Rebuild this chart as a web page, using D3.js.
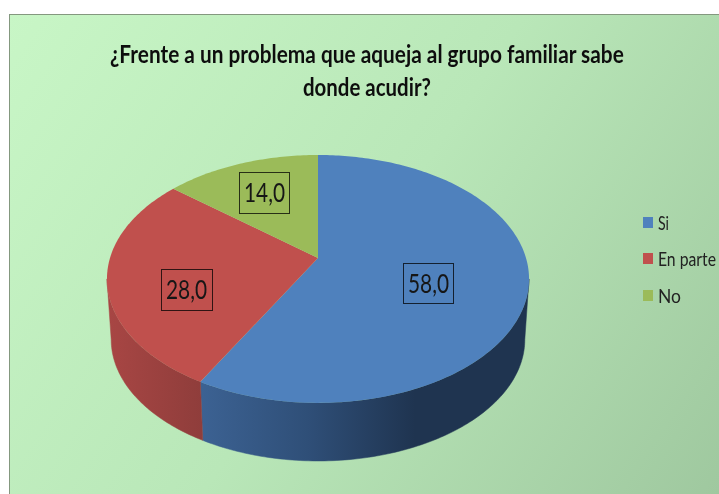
<!DOCTYPE html>
<html><head><meta charset="utf-8">
<script src="https://cdn.jsdelivr.net/npm/d3@7"></script>
<style>html,body{margin:0;padding:0;background:#fff}svg{display:block}text{font-family:Lato,"Open Sans",sans-serif}</style>
</head><body><div id="chart"></div>
<script>
const categories = ["Si","En parte","No"];
const values = [58.0,28.0,14.0];
const valueLabels = ["58,0","28,0","14,0"];
const titleLines = ["¿Frente a un problema que aqueja al grupo familiar sabe","donde acudir?"];
const topColors = ["#4f81bd","#c0504d","#9bbb59"];

const W=719,H=494;
const svg=d3.select("#chart").append("svg").attr("width",W).attr("height",H);
const defs=svg.append("defs");
const mk=(id,attrs,stops)=>{const g=defs.append("linearGradient").attr("id",id);
  Object.entries(attrs).forEach(([k,v])=>g.attr(k,v));
  stops.forEach(([o,c])=>g.append("stop").attr("offset",o).attr("stop-color",c));};
mk("bg",{gradientUnits:"userSpaceOnUse",x1:9,y1:14,x2:719,y2:494},[[0,"#c8f6c6"],[0.5,"#b9e7b8"],[1,"#9fc89f"]]);
mk("sideBlue",{gradientUnits:"userSpaceOnUse",x1:200,y1:0,x2:415,y2:0},[[0,"#3c6293"],[0.5,"#2f4f78"],[1,"#1f3450"]]);
mk("sideRed",{gradientUnits:"userSpaceOnUse",x1:107,y1:0,x2:203,y2:0},[[0,"#a84644"],[1,"#8f3d3b"]]);
defs.append("filter").attr("id","soft").attr("x","-5%").attr("y","-20%").attr("width","110%").attr("height","140%")
  .append("feGaussianBlur").attr("stdDeviation",0.45);
const sideFills=["url(#sideBlue)","url(#sideRed)",null];

svg.append("rect").attr("x",9.5).attr("y",14.5).attr("width",W).attr("height",H).attr("fill","url(#bg)").attr("stroke","#84987f").attr("stroke-width",1);

// perspective projection of the unit disc (v grows towards the viewer)
const cx=318,cy=258,a=208,b=120.4,k=-0.169,depth=61,shrink=0.98;
const project=(theta,r=1,bottom=false)=>{
  const u=r*Math.sin(theta),v=-r*Math.cos(theta),d=1+k*v,s=bottom?shrink:1;
  return [cx+s*a*u/d, cy+s*b*v/d+(bottom?depth:0)];
};
const pie=d3.pie().sort(null).value(d=>d).startAngle(0).endAngle(2*Math.PI);
const arcs=pie(values);
const color=d3.scaleOrdinal().domain(categories).range(topColors);
const line=d3.line();
const samples=(t0,t1)=>{const n=Math.max(2,Math.ceil((t1-t0)*60));return d3.range(n+1).map(i=>t0+(t1-t0)*i/n);};

// visible side wall
const silhouette=Math.acos(k);
const sideLo=silhouette,sideHi=2*Math.PI-silhouette;
const sideG=svg.append("g");
arcs.forEach((s,i)=>{
  const t0=Math.max(s.startAngle,sideLo),t1=Math.min(s.endAngle,sideHi);
  if(t1<=t0||!sideFills[i])return;
  const ts=samples(t0,t1);
  const pts=ts.map(t=>project(t)).concat(ts.slice().reverse().map(t=>project(t,1,true)));
  sideG.append("path").attr("d",line(pts)+"Z").attr("fill",sideFills[i]).attr("stroke",sideFills[i]).attr("stroke-width",0.5);
});

// top face
svg.append("g").selectAll("path").data(arcs).join("path")
  .attr("d",s=>line([[cx,cy],...samples(s.startAngle,s.endAngle).map(t=>project(t))])+"Z")
  .attr("fill",(s,i)=>color(categories[i]));

// squeeze a text horizontally to a measured width, anchored at its left end
const fit=(sel,xOf,yOf,lenOf)=>sel.each(function(d,i){
  const natural=this.getComputedTextLength();
  d3.select(this).attr("transform",`translate(${xOf(d,i)},${yOf(d,i)}) scale(${lenOf(d,i)/natural},1)`);
});

// title
const titleLayout=[{x:367,y:63,len:514},{x:367,y:96,len:128}];
svg.append("g").attr("filter","url(#soft)").selectAll("text").data(titleLines).join("text")
  .attr("font-size",25).attr("font-weight",700).attr("fill","#111")
  .text(d=>d)
  .call(fit,(d,i)=>titleLayout[i].x-titleLayout[i].len/2,(d,i)=>titleLayout[i].y,(d,i)=>titleLayout[i].len);

// data labels
const boxes=[{x:403,y:263,w:50,h:40},{x:161,y:269,w:51,h:41},{x:239,y:172,w:50,h:41}];
const lab=svg.append("g").selectAll("g").data(valueLabels).join("g");
lab.append("rect").attr("x",(d,i)=>boxes[i].x+.5).attr("y",(d,i)=>boxes[i].y+.5)
  .attr("width",(d,i)=>boxes[i].w).attr("height",(d,i)=>boxes[i].h)
  .attr("fill","none").attr("stroke","#000").attr("stroke-opacity",.75);
lab.append("text").attr("filter","url(#soft)")
  .attr("font-size",26).attr("fill","#151515").text(d=>d)
  .call(fit,(d,i)=>boxes[i].x+5,(d,i)=>boxes[i].y+30,()=>41);

// legend
const legendY=[217,253,290], legendLen=[11,58,23];
const leg=svg.append("g").selectAll("g").data(categories).join("g");
leg.append("rect").attr("x",643).attr("y",(d,i)=>legendY[i]).attr("width",10).attr("height",11).attr("fill",d=>color(d));
leg.append("text").attr("filter","url(#soft)")
  .attr("font-size",20).attr("fill","#222").text(d=>d)
  .call(fit,()=>658,(d,i)=>legendY[i]+13,(d,i)=>legendLen[i]);
</script></body></html>
